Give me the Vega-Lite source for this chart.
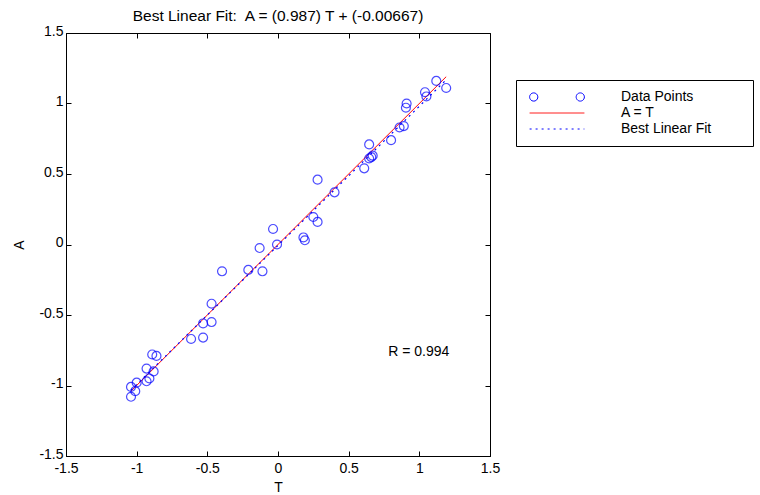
{
  "$schema": "https://vega.github.io/schema/vega-lite/v6.json",
  "width": 424,
  "height": 423,
  "autosize": {"type": "none"},
  "padding": {"left": 66, "top": 33, "right": 270, "bottom": 39},
  "background": "white",
  "config": {
    "font": "Liberation Sans",
    "view": {"stroke": "black", "strokeWidth": 1},
    "axis": {
      "domainColor": "black",
      "tickColor": "black",
      "labelColor": "black",
      "titleColor": "black",
      "labelFont": "Liberation Sans",
      "titleFont": "Liberation Sans",
      "labelFontSize": 14,
      "titleFontSize": 14,
      "titleFontWeight": "normal",
      "grid": false,
      "tickSize": -5,
      "labelFlush": false,
      "labelOverlap": false
    }
  },
  "title": {
    "text": "Best Linear Fit:\u00a0 A = (0.987) T + (-0.00667)",
    "font": "Liberation Sans",
    "fontSize": 15.5,
    "fontWeight": "normal",
    "color": "black",
    "frame": "group",
    "anchor": "middle",
    "offset": 0
  },
  "resolve": {"axis": {"x": "independent", "y": "independent"}},
  "datasets": {
    "points": [
      {"T": -1.04, "A": -1.08, "series": "Data Points"},
      {"T": -1.04, "A": -1.01, "series": "Data Points"},
      {"T": -1.0, "A": -0.98, "series": "Data Points"},
      {"T": -1.01, "A": -1.04, "series": "Data Points"},
      {"T": -0.93, "A": -0.97, "series": "Data Points"},
      {"T": -0.93, "A": -0.88, "series": "Data Points"},
      {"T": -0.91, "A": -0.95, "series": "Data Points"},
      {"T": -0.89, "A": -0.78, "series": "Data Points"},
      {"T": -0.86, "A": -0.79, "series": "Data Points"},
      {"T": -0.88, "A": -0.9, "series": "Data Points"},
      {"T": -0.615, "A": -0.67, "series": "Data Points"},
      {"T": -0.53, "A": -0.66, "series": "Data Points"},
      {"T": -0.53, "A": -0.56, "series": "Data Points"},
      {"T": -0.47, "A": -0.55, "series": "Data Points"},
      {"T": -0.47, "A": -0.42, "series": "Data Points"},
      {"T": -0.396, "A": -0.19, "series": "Data Points"},
      {"T": -0.21, "A": -0.18, "series": "Data Points"},
      {"T": -0.11, "A": -0.19, "series": "Data Points"},
      {"T": -0.13, "A": -0.025, "series": "Data Points"},
      {"T": -0.035, "A": 0.11, "series": "Data Points"},
      {"T": -0.007, "A": 0.0, "series": "Data Points"},
      {"T": 0.18, "A": 0.05, "series": "Data Points"},
      {"T": 0.19, "A": 0.03, "series": "Data Points"},
      {"T": 0.25, "A": 0.195, "series": "Data Points"},
      {"T": 0.28, "A": 0.16, "series": "Data Points"},
      {"T": 0.28, "A": 0.46, "series": "Data Points"},
      {"T": 0.4, "A": 0.37, "series": "Data Points"},
      {"T": 0.61, "A": 0.54, "series": "Data Points"},
      {"T": 0.645, "A": 0.71, "series": "Data Points"},
      {"T": 0.645, "A": 0.61, "series": "Data Points"},
      {"T": 0.67, "A": 0.63, "series": "Data Points"},
      {"T": 0.66, "A": 0.62, "series": "Data Points"},
      {"T": 0.8, "A": 0.74, "series": "Data Points"},
      {"T": 0.86, "A": 0.83, "series": "Data Points"},
      {"T": 0.89, "A": 0.84, "series": "Data Points"},
      {"T": 0.91, "A": 1.0, "series": "Data Points"},
      {"T": 0.905, "A": 0.97, "series": "Data Points"},
      {"T": 1.04, "A": 1.08, "series": "Data Points"},
      {"T": 1.05, "A": 1.05, "series": "Data Points"},
      {"T": 1.12, "A": 1.16, "series": "Data Points"},
      {"T": 1.19, "A": 1.11, "series": "Data Points"}
    ],
    "identity": [
      {"T": -1.04, "A": -1.04, "series": "A = T"},
      {"T": 1.19, "A": 1.19, "series": "A = T"}
    ],
    "fit": [
      {"T": -1.04, "A": -1.033, "series": "Best Linear Fit"},
      {"T": 1.19, "A": 1.168, "series": "Best Linear Fit"}
    ],
    "rtext": [
      {"T": 0.78, "A": -0.76, "label": "R = 0.994"}
    ]
  },
  "layer": [
    {
      "data": {"name": "identity"},
      "mark": {"type": "line", "strokeWidth": 1},
      "encoding": {
        "x": {"field": "T", "type": "quantitative", "scale": {"domain": [-1.5, 1.5], "nice": false, "zero": false},
              "axis": {"title": "T", "values": [-1.5, -1, -0.5, 0, 0.5, 1, 1.5], "labelExpr": "replace(format(datum.value, '~g'), '\u2212', '-')", "titlePadding": 5, "labelPadding": 10}},
        "y": {"field": "A", "type": "quantitative", "scale": {"domain": [-1.5, 1.5], "nice": false, "zero": false},
              "axis": {"title": "A", "values": [-1.5, -1, -0.5, 0, 0.5, 1, 1.5], "labelExpr": "replace(format(datum.value, '~g'), '\u2212', '-')", "titlePadding": 12, "labelPadding": 8, "labelOffset": -2}},
        "color": {
          "field": "series",
          "type": "nominal",
          "scale": {"domain": ["Data Points", "A = T", "Best Linear Fit"], "range": ["#0000ff", "#ff0000", "#0000ff"]},
          "legend": {
            "title": "\u2800\u2800\u2800",
            "titleOrient": "right",
            "titleFont": "DejaVu Sans",
            "titleFontSize": 14,
            "titlePadding": 0,
            "titleColor": "white",
            "orient": "none",
            "legendX": 450,
            "legendY": 47,
            "padding": 9,
            "strokeColor": "black",
            "fillColor": "white",
            "labelFont": "Liberation Sans",
            "labelFontSize": 14,
            "labelColor": "black",
            "labelOffset": 36,
            "symbolSize": 3000,
            "symbolOffset": 4,
            "symbolStrokeWidth": 1,
            "clipHeight": 16,
            "rowPadding": 0,
            "encode": {
              "symbols": {
                "update": {
                  "shape": {"signal": "datum.value === 'Data Points' ? 'M -0.7,0 A 0.15,0.15 0 1,1 -1,0 A 0.15,0.15 0 1,1 -0.7,0 Z M 1,0 A 0.15,0.15 0 1,1 0.7,0 A 0.15,0.15 0 1,1 1,0 Z' : 'stroke'"},
                  "fill": {"value": "transparent"},
                  "stroke": {"signal": "datum.value === 'A = T' ? '#ff0000' : '#0000ff'"},
                  "strokeDash": {"signal": "datum.value === 'Best Linear Fit' ? [2, 4] : [1, 0]"},
                  "opacity": {"value": 1}
                }
              }
            }
          }
        }
      }
    },
    {
      "data": {"name": "fit"},
      "mark": {"type": "line", "strokeWidth": 1.2, "strokeDash": [2, 4]},
      "encoding": {
        "x": {"field": "T", "type": "quantitative", "axis": {"orient": "top", "labels": false, "title": null, "domain": false, "values": [-1.5, -1, -0.5, 0, 0.5, 1, 1.5]}},
        "y": {"field": "A", "type": "quantitative", "axis": {"orient": "right", "labels": false, "title": null, "domain": false, "values": [-1.5, -1, -0.5, 0, 0.5, 1, 1.5]}},
        "color": {"field": "series", "type": "nominal"}
      }
    },
    {
      "data": {"name": "points"},
      "mark": {"type": "point", "shape": "circle", "filled": false, "size": 80, "strokeWidth": 1.2},
      "encoding": {
        "x": {"field": "T", "type": "quantitative", "axis": null},
        "y": {"field": "A", "type": "quantitative", "axis": null},
        "color": {"field": "series", "type": "nominal"}
      }
    },
    {
      "data": {"name": "rtext"},
      "mark": {"type": "text", "align": "left", "baseline": "middle", "font": "Liberation Sans", "fontSize": 14, "color": "black"},
      "encoding": {
        "x": {"field": "T", "type": "quantitative", "axis": null},
        "y": {"field": "A", "type": "quantitative", "axis": null},
        "text": {"field": "label"}
      }
    }
  ]
}
